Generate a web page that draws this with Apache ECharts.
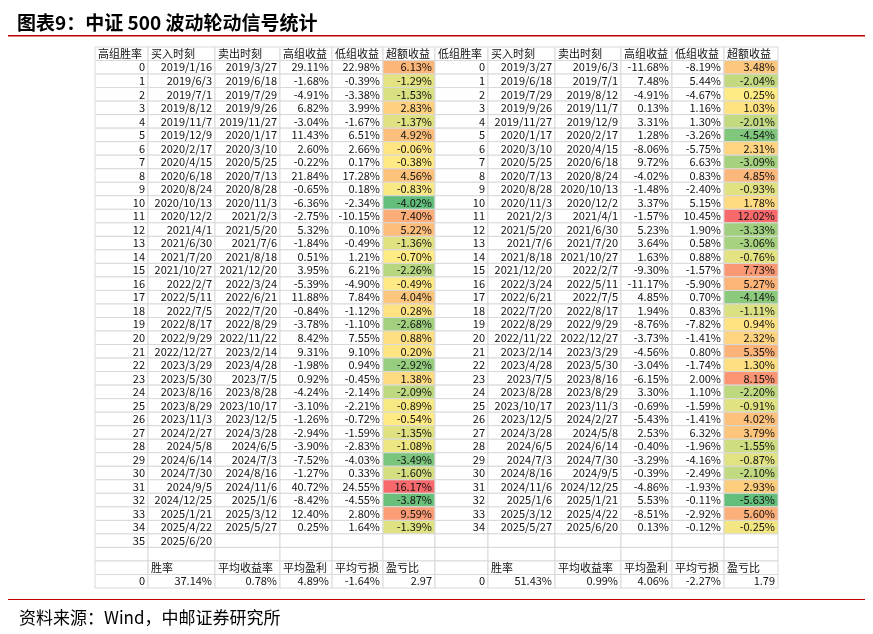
<!DOCTYPE html>
<html><head><meta charset="utf-8">
<script src="https://cdn.jsdelivr.net/npm/echarts@6/dist/echarts.min.js"></script>
<style>html,body{margin:0;padding:0;background:#fff}#main{width:873px;height:634px}</style>
</head><body><div id="main"></div>
<script>
// 高组胜率表
var buyL = ['2019/1/16','2019/6/3','2019/7/1','2019/8/12','2019/11/7','2019/12/9','2020/2/17','2020/4/15','2020/6/18','2020/8/24','2020/10/13','2020/12/2','2021/4/1','2021/6/30','2021/7/20','2021/10/27','2022/2/7','2022/5/11','2022/7/5','2022/8/17','2022/9/29','2022/12/27','2023/3/29','2023/5/30','2023/8/16','2023/8/29','2023/11/3','2024/2/27','2024/5/8','2024/6/14','2024/7/30','2024/9/5','2024/12/25','2025/1/21','2025/4/22','2025/6/20'];
var sellL = ['2019/3/27','2019/6/18','2019/7/29','2019/9/26','2019/11/27','2020/1/17','2020/3/10','2020/5/25','2020/7/13','2020/8/28','2020/11/3','2021/2/3','2021/5/20','2021/7/6','2021/8/18','2021/12/20','2022/3/24','2022/6/21','2022/7/20','2022/8/29','2022/11/22','2023/2/14','2023/4/28','2023/7/5','2023/8/28','2023/10/17','2023/12/5','2024/3/28','2024/6/5','2024/7/3','2024/8/16','2024/11/6','2025/1/6','2025/3/12','2025/5/27'];
var highL = [29.11,-1.68,-4.91,6.82,-3.04,11.43,2.60,-0.22,21.84,-0.65,-6.36,-2.75,5.32,-1.84,0.51,3.95,-5.39,11.88,-0.84,-3.78,8.42,9.31,-1.98,0.92,-4.24,-3.10,-1.26,-2.94,-3.90,-7.52,-1.27,40.72,-8.42,12.40,0.25];
var lowL = [22.98,-0.39,-3.38,3.99,-1.67,6.51,2.66,0.17,17.28,0.18,-2.34,-10.15,0.10,-0.49,1.21,6.21,-4.90,7.84,-1.12,-1.10,7.55,9.10,0.94,-0.45,-2.14,-2.21,-0.72,-1.59,-2.83,-4.03,0.33,24.55,-4.55,2.80,1.64];
var exL = [6.13,-1.29,-1.53,2.83,-1.37,4.92,-0.06,-0.38,4.56,-0.83,-4.02,7.40,5.22,-1.36,-0.70,-2.26,-0.49,4.04,0.28,-2.68,0.88,0.20,-2.92,1.38,-2.09,-0.89,-0.54,-1.35,-1.08,-3.49,-1.60,16.17,-3.87,9.59,-1.39];
var sumL = ['37.14%','0.78%','4.89%','-1.64%','2.97'];
// 低组胜率表
var buyR = ['2019/3/27','2019/6/18','2019/7/29','2019/9/26','2019/11/27','2020/1/17','2020/3/10','2020/5/25','2020/7/13','2020/8/28','2020/11/3','2021/2/3','2021/5/20','2021/7/6','2021/8/18','2021/12/20','2022/3/24','2022/6/21','2022/7/20','2022/8/29','2022/11/22','2023/2/14','2023/4/28','2023/7/5','2023/8/28','2023/10/17','2023/12/5','2024/3/28','2024/6/5','2024/7/3','2024/8/16','2024/11/6','2025/1/6','2025/3/12','2025/5/27'];
var sellR = ['2019/6/3','2019/7/1','2019/8/12','2019/11/7','2019/12/9','2020/2/17','2020/4/15','2020/6/18','2020/8/24','2020/10/13','2020/12/2','2021/4/1','2021/6/30','2021/7/20','2021/10/27','2022/2/7','2022/5/11','2022/7/5','2022/8/17','2022/9/29','2022/12/27','2023/3/29','2023/5/30','2023/8/16','2023/8/29','2023/11/3','2024/2/27','2024/5/8','2024/6/14','2024/7/30','2024/9/5','2024/12/25','2025/1/21','2025/4/22','2025/6/20'];
var highR = [-11.68,7.48,-4.91,0.13,3.31,1.28,-8.06,9.72,-4.02,-1.48,3.37,-1.57,5.23,3.64,1.63,-9.30,-11.17,4.85,1.94,-8.76,-3.73,-4.56,-3.04,-6.15,3.30,-0.69,-5.43,2.53,-0.40,-3.29,-0.39,-4.86,5.53,-8.51,0.13];
var lowR = [-8.19,5.44,-4.67,1.16,1.30,-3.26,-5.75,6.63,0.83,-2.40,5.15,10.45,1.90,0.58,0.88,-1.57,-5.90,0.70,0.83,-7.82,-1.41,0.80,-1.74,2.00,1.10,-1.59,-1.41,6.32,-1.96,-4.16,-2.49,-1.93,-0.11,-2.92,-0.12];
var exR = [3.48,-2.04,0.25,1.03,-2.01,-4.54,2.31,-3.09,4.85,-0.93,1.78,12.02,-3.33,-3.06,-0.76,7.73,5.27,-4.14,-1.11,0.94,2.32,5.35,1.30,8.15,-2.20,-0.91,4.02,3.79,-1.55,-0.87,-2.10,2.93,-5.63,5.60,-0.25];
var sumR = ['51.43%','0.99%','4.06%','-2.27%','1.79'];

var headL = ['高组胜率','买入时刻','卖出时刻','高组收益','低组收益','超额收益'];
var headR = ['低组胜率','买入时刻','卖出时刻','高组收益','低组收益','超额收益'];
var headSum = ['','胜率','平均收益率','平均盈利','平均亏损','盈亏比'];

var edgesL = [0,53,120,185,237,288,340];
var edgesR = [340,393,460,526,577,629,683];
var ROWS = 40;

function hex(c){return [parseInt(c.substr(1,2),16),parseInt(c.substr(3,2),16),parseInt(c.substr(5,2),16)];}
function mix(a,b,t){a=hex(a);b=hex(b);return 'rgb('+a.map(function(v,i){return Math.round(v+(b[i]-v)*t);}).join(',')+')';}
function scale(arr){
  var s = arr.slice().sort(function(a,b){return a-b;});
  var mn=s[0], mx=s[s.length-1], md=s[Math.floor(s.length/2)];
  return function(v){
    if(v<=md) return mix('#63BE7B','#FFEB84',(v-mn)/(md-mn));
    return mix('#FFEB84','#F8696B',(v-md)/(mx-md));
  };
}
function pct(v){return v.toFixed(2)+'%';}

var cells = [];
function add(edges,col,row,text,align,fill){cells.push([edges[col],edges[col+1],row,text,align,fill||'#fff']);}
function table(edges,head,buy,sell,hi,lo,ex,sum){
  var sc = scale(ex);
  for(var c=0;c<6;c++) add(edges,c,0,head[c],'left');
  for(var r=0;r<36;r++){
    var has = r<ex.length;
    add(edges,0,r+1,(has||buy[r])?String(r):'','right');
    add(edges,1,r+1,buy[r]||'','right');
    add(edges,2,r+1,has?sell[r]:'','right');
    add(edges,3,r+1,has?pct(hi[r]):'','right');
    add(edges,4,r+1,has?pct(lo[r]):'','right');
    add(edges,5,r+1,has?pct(ex[r]):'','right',has?sc(ex[r]):null);
  }
  for(var c2=0;c2<6;c2++) add(edges,c2,37,'','right');
  for(var c3=0;c3<6;c3++) add(edges,c3,38,headSum[c3],'left');
  add(edges,0,39,'0','right');
  for(var c4=0;c4<5;c4++) add(edges,c4+1,39,sum[c4],'right');
}
table(edgesL,headL,buyL,sellL,highL,lowL,exL,sumL);
table(edgesR,headR,buyR,sellR,highR,lowR,exR,sumR);

var chart = echarts.init(document.getElementById('main'));
chart.setOption({
  animation:false,
  title:[
    {text:'图表9：中证 500 波动轮动信号统计',left:12,top:8,textStyle:{fontSize:19,fontWeight:'bold',color:'#000',fontFamily:'Noto Sans CJK SC'}},
    {text:'资料来源：Wind，中邮证券研究所',left:14,top:604,textStyle:{fontSize:17,fontWeight:'normal',color:'#000',fontFamily:'Noto Sans CJK SC'}}
  ],
  graphic:[
    {type:'rect',shape:{x:8,y:35,width:857,height:1.5},style:{fill:'#c00000'}},
    {type:'rect',shape:{x:8,y:599,width:857,height:1},style:{fill:'#c00000'}}
  ],
  grid:{left:95,top:47,width:683,height:541},
  xAxis:{type:'value',min:0,max:683,show:false},
  yAxis:{type:'value',min:0,max:ROWS,inverse:true,show:false},
  series:[{
    type:'custom',
    data:cells,
    renderItem:function(params,api){
      var p0 = api.coord([api.value(0),api.value(2)]);
      var p1 = api.coord([api.value(1),api.value(2)+1]);
      var d = cells[params.dataIndex];
      var w = p1[0]-p0[0], h = p1[1]-p0[1];
      return {type:'group',children:[
        {type:'rect',shape:{x:p0[0],y:p0[1],width:w,height:h},style:{fill:d[5],stroke:'#d9d9d9',lineWidth:1}},
        {type:'text',style:{text:d[3],x:d[4]==='left'?p0[0]+3:p1[0]-3,y:p0[1]+h/2,
          align:d[4],verticalAlign:'middle',fill:'#111',fontSize:11,fontFamily:'Noto Sans CJK SC'}}
      ]};
    }
  }]
});
</script></body></html>
